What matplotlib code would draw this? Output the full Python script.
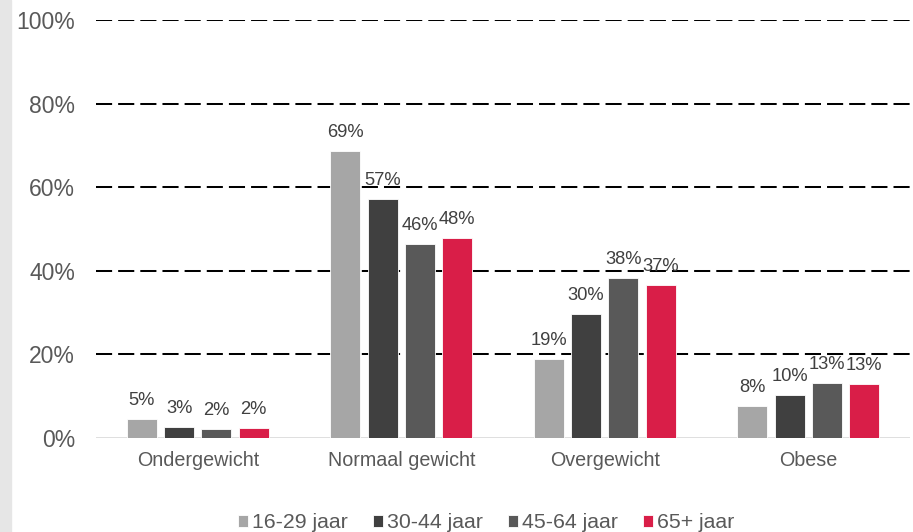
import matplotlib
matplotlib.use("Agg")
import matplotlib.pyplot as plt
from matplotlib.patches import Rectangle
import numpy as np

categories = ["Ondergewicht", "Normaal gewicht", "Overgewicht", "Obese"]
series_names = ["16-29 jaar", "30-44 jaar", "45-64 jaar", "65+ jaar"]
values_16_29 = [4.6, 68.7, 18.9, 7.6]
values_30_44 = [2.6, 57.2, 29.7, 10.4]
values_45_64 = [2.2, 46.4, 38.3, 13.2]
values_65 = [2.4, 47.8, 36.6, 13.0]
colors = ["#a6a6a6", "#404040", "#595959", "#d91e48"]
y_ticks = [0, 20, 40, 60, 80, 100]

plt.rcParams["font.family"] = ["Liberation Sans", "DejaVu Sans"]

fig = plt.figure(figsize=(9.13, 5.32), dpi=100)
fig.patches.append(Rectangle((0, 0), 11 / 913, 1, transform=fig.transFigure,
                             color="#e6e6e6", zorder=0))
ax = fig.add_axes([96 / 913, 1 - 438 / 532, 814 / 913, 418 / 532])

all_series = [values_16_29, values_30_44, values_45_64, values_65]
x = np.arange(len(categories))
width = 0.147
step = 0.183
for i, (name, vals) in enumerate(zip(series_names, all_series)):
    pos = x + (i - 1.5) * step
    bars = ax.bar(pos, vals, width, color=colors[i], label=name,
                  edgecolor="white", linewidth=0.6, zorder=3)
    for b, v in zip(bars, vals):
        ax.text(b.get_x() + b.get_width() / 2, v + 3.3, f"{v:.0f}%",
                ha="center", va="baseline", fontsize=13.2, color="#404040",
                zorder=4)

ax.set_xlim(-0.5, 3.5)
ax.set_ylim(0, 100)
ax.set_yticks(y_ticks)
ax.set_yticklabels([f"{t}%" for t in y_ticks])
for t in y_ticks[1:]:
    ax.axhline(t, color="black", linestyle=(0, (8, 3)), linewidth=1.45, zorder=1)
ax.axhline(0, color="#d9d9d9", linewidth=1.2, zorder=2)

ax.set_xticks(x)
ax.set_xticklabels(categories)
ax.tick_params(axis="both", length=0, colors="#595959")
ax.tick_params(axis="x", pad=9, labelsize=14.2)
ax.tick_params(axis="y", pad=15, labelsize=16.5)
for s in ax.spines.values():
    s.set_visible(False)

ax.legend(loc="center", bbox_to_anchor=(486.5 / 913, 1 - 523 / 532),
          bbox_transform=fig.transFigure, ncol=4, frameon=False,
          fontsize=15.3, handlelength=0.47, handleheight=0.47,
          handletextpad=0.19, columnspacing=1.18, labelcolor="#595959",
          borderpad=0)

fig.savefig("out.png", dpi=100)
